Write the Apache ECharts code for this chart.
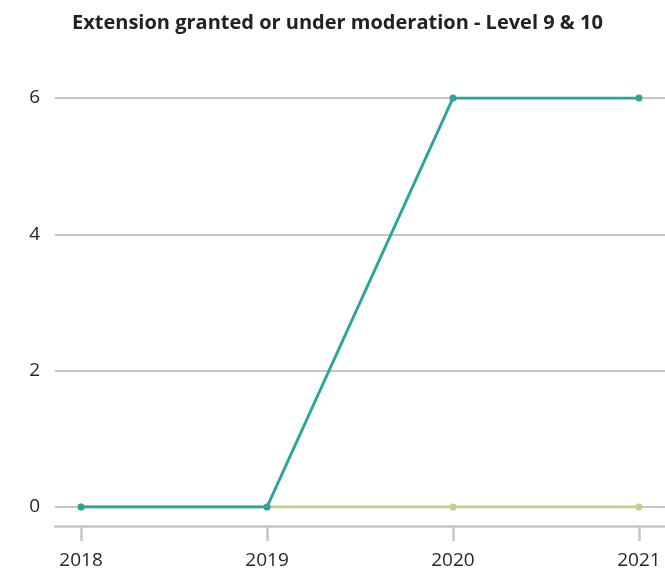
<!DOCTYPE html>
<html>
<head>
<meta charset="utf-8">
<script src="https://cdn.jsdelivr.net/npm/echarts@6/dist/echarts.min.js"></script>
<style>
html,body{margin:0;padding:0;background:#fff;}
#chart{width:665px;height:574px;}
</style>
</head>
<body>
<div id="chart"></div>
<script>
var years = [2018, 2019, 2020, 2021];
var extensionGranted = [0, 0, 6, 6];
var underModeration = [0, 0, 0, 0];
var yTicks = [0, 2, 4, 6];

function pairs(xs, ys) { return xs.map(function (x, i) { return [x, ys[i]]; }); }

var chart = echarts.init(document.getElementById('chart'), null, {renderer: 'canvas'});
var FONT = 'Open Sans';
chart.setOption({
  animation: false,
  backgroundColor: '#ffffff',
  title: {
    text: 'Extension granted or under moderation - Level 9 & 10',
    left: 67,
    top: 8,
    textStyle: {fontFamily: FONT, fontWeight: 'bold', fontSize: 20, color: '#222222'}
  },
  grid: {left: 55, right: 0, top: 98, bottom: 67, containLabel: false},
  xAxis: {
    type: 'value',
    min: 2017.86,
    max: 2021.14,
    offset: 19,
    axisLine: {show: true, onZero: false, lineStyle: {color: '#c6c6c6', width: 2.5}},
    axisTick: {show: true, inside: false, customValues: years, length: 15, lineStyle: {color: '#c6c6c6', width: 2.5}},
    axisLabel: {customValues: years, margin: 25, fontFamily: FONT, fontSize: 19, color: '#262626',
      formatter: function (v) { return String(v); }},
    splitLine: {show: false}
  },
  yAxis: {
    type: 'value',
    min: yTicks[0],
    max: yTicks[yTicks.length - 1],
    interval: 2,
    axisLine: {show: false},
    axisTick: {show: false},
    axisLabel: {margin: 15, fontFamily: FONT, fontSize: 19, color: '#262626'},
    splitLine: {show: true, lineStyle: {color: '#c6c6c6', width: 2}}
  },
  series: [
    {
      name: 'Under moderation',
      type: 'line',
      data: pairs(years, underModeration),
      symbol: 'circle',
      symbolSize: 7,
      lineStyle: {color: '#c4cf8e', width: 3},
      itemStyle: {color: '#c4cf8e'},
      z: 2
    },
    {
      name: 'Extension granted',
      type: 'line',
      data: pairs(years, extensionGranted),
      symbol: 'circle',
      symbolSize: 7,
      lineStyle: {color: '#2aa59c', width: 3},
      itemStyle: {color: '#2aa59c'},
      z: 3
    }
  ]
});
</script>
</body>
</html>
